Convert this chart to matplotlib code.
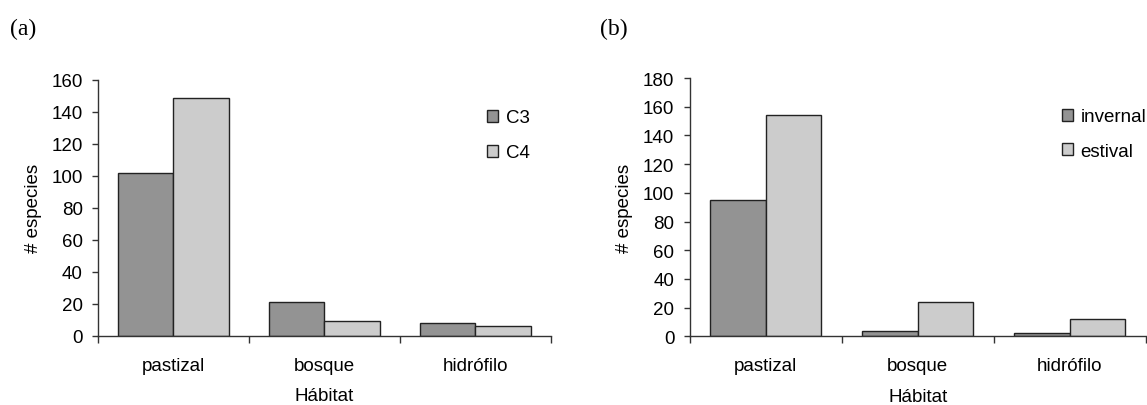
import matplotlib.pyplot as plt
import numpy as np

plt.rcParams['font.family'] = ['Liberation Sans', 'DejaVu Sans']

# Datos: número de especies por hábitat
habitats = ['pastizal', 'bosque', 'hidrófilo']
c3 = [102, 21, 8]
c4 = [149, 9, 6]
invernal = [95, 4, 2]
estival = [154, 24, 12]

DARK = '#939393'
LIGHT = '#cccccc'
EDGE = '#222222'
AXIS = '#333333'
FS = 13.5


def draw_panel(ax, serie1, serie2, labels, ymax, legend_anchor):
    x = np.arange(len(habitats)) + 0.5
    w = 0.365
    ax.bar(x - w / 2, serie1, w, color=DARK, edgecolor=EDGE, linewidth=1.0, label=labels[0])
    ax.bar(x + w / 2, serie2, w, color=LIGHT, edgecolor=EDGE, linewidth=1.0, label=labels[1])

    ax.set_xlim(0, len(habitats))
    ax.set_ylim(0, ymax)
    ax.set_yticks(np.arange(0, ymax + 1, 20))

    # etiquetas en el centro, marcas entre categorías
    ax.set_xticks(x)
    ax.set_xticklabels(habitats)
    ax.set_xticks(np.arange(len(habitats) + 1), minor=True)
    ax.tick_params(axis='x', which='major', length=0, pad=15, labelsize=FS)
    ax.tick_params(axis='x', which='minor', length=5, width=1, color=AXIS, direction='out')
    ax.tick_params(axis='y', length=4, width=1, color=AXIS, pad=7, labelsize=FS)

    for s in ['top', 'right']:
        ax.spines[s].set_visible(False)
    for s in ['left', 'bottom']:
        ax.spines[s].set_color(AXIS)
        ax.spines[s].set_linewidth(1)

    ax.set_xlabel('Hábitat', fontsize=FS, labelpad=10)
    ax.set_ylabel('# especies', fontsize=FS, labelpad=7)

    ax.legend(loc='upper left', bbox_to_anchor=legend_anchor, bbox_transform=fig.transFigure,
              frameon=False, fontsize=FS, handlelength=0.6, handleheight=0.6,
              handletextpad=0.4, labelspacing=0.95, borderpad=0, borderaxespad=0)


fig = plt.figure(figsize=(11.47, 4.06), dpi=100)
ax1 = fig.add_axes([0.0854, 0.1707, 0.3949, 0.6298])
ax2 = fig.add_axes([0.6012, 0.1692, 0.3979, 0.6362])

draw_panel(ax1, c3, c4, ['C3', 'C4'], 160, (0.4245, 0.728))
draw_panel(ax2, invernal, estival, ['invernal', 'estival'], 180, (0.9255, 0.731))

fig.text(0.009, 0.928, '(a)', family=['Liberation Serif'], fontsize=17, va='center')
fig.text(0.523, 0.928, '(b)', family=['Liberation Serif'], fontsize=17, va='center')

fig.savefig('out.png', dpi=100)
